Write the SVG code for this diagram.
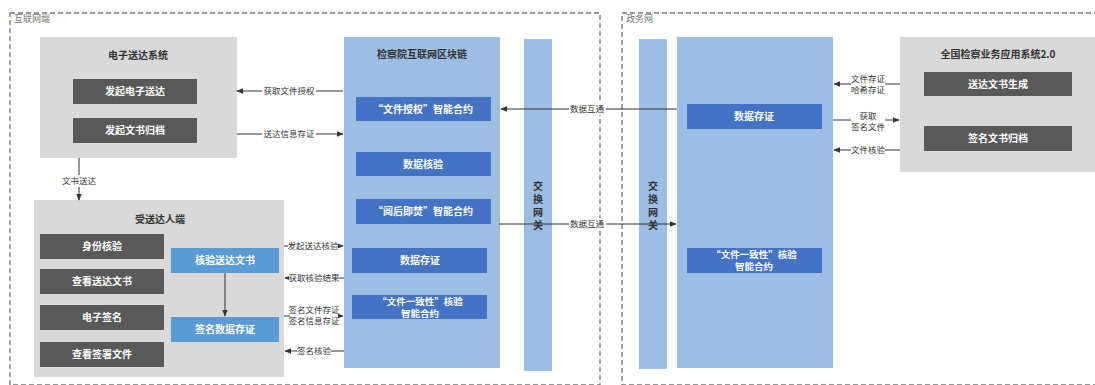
<svg xmlns="http://www.w3.org/2000/svg" width="1095" height="385" viewBox="0 0 1095 385">
<defs>
<marker id="ah" viewBox="0 0 10 10" refX="9" refY="5" markerWidth="7" markerHeight="7" markerUnits="userSpaceOnUse" orient="auto">
<path d="M0,1 L10,5 L0,9 z" fill="#333"/>
</marker>
<style>
text{font-family:"Noto Sans CJK SC","Noto Sans",sans-serif;}
.zone{fill:none;stroke:#777;stroke-width:1.3;stroke-dasharray:5,3;}
.zl{font-size:9px;fill:#777;}
.lg{fill:#d9d9d9;}
.dk{fill:#595959;}
.lb{fill:#9cbde4;}
.db{fill:#4472c4;}
.mb{fill:#5b9bd5;}
.t{font-size:10px;font-weight:bold;fill:#333;text-anchor:middle;}
.w{font-size:10px;font-weight:bold;fill:#fff;text-anchor:middle;}
.w2{font-size:9.5px;font-weight:bold;fill:#fff;text-anchor:middle;}
.c{fill:none;stroke:#333;stroke-width:1;}
.cl{font-size:8.5px;fill:#333;text-anchor:middle;}
.bg{fill:#fff;}
</style>
</defs>
<rect width="1095" height="385" fill="#fff"/>
<g id="zone-internet">
<rect class="zone" x="10" y="13" width="590" height="372"/>
<text class="zl" x="14" y="22">互联网端</text>
</g>
<g id="zone-gov">
<rect class="zone" x="622" y="13" width="480" height="372"/>
<text class="zl" x="626" y="22">政务网</text>
</g>
<g id="edelivery">
<rect class="lg" x="40" y="37" width="197" height="121"/>
<text class="t" x="138" y="59">电子送达系统</text>
<rect class="dk" x="73" y="79" width="124" height="25"/>
<text class="w" x="135" y="95">发起电子送达</text>
<rect class="dk" x="73" y="118" width="124" height="25"/>
<text class="w" x="135" y="134">发起文书归档</text>
</g>
<g id="receiver">
<rect class="lg" x="34" y="200" width="250" height="177"/>
<text class="t" x="160" y="223">受送达人端</text>
<rect class="dk" x="40" y="234" width="124" height="25"/>
<text class="w" x="102" y="250">身份核验</text>
<rect class="dk" x="40" y="269" width="124" height="25"/>
<text class="w" x="102" y="285">查看送达文书</text>
<rect class="dk" x="40" y="305" width="124" height="25"/>
<text class="w" x="102" y="321">电子签名</text>
<rect class="dk" x="40" y="342" width="124" height="25"/>
<text class="w" x="102" y="358">查看签署文件</text>
<rect class="mb" x="171" y="248" width="108" height="25"/>
<text class="w" x="225" y="264">核验送达文书</text>
<rect class="mb" x="171" y="317" width="108" height="25"/>
<text class="w" x="225" y="333">签名数据存证</text>
</g>
<g id="blockchain">
<rect class="lb" x="344" y="37" width="156" height="331"/>
<text class="t" x="422" y="58">检察院互联网区块链</text>
<rect class="db" x="356" y="97" width="135" height="24"/>
<text class="w" x="423" y="113">“文件授权”智能合约</text>
<rect class="db" x="356" y="152" width="135" height="24"/>
<text class="w" x="423" y="168">数据核验</text>
<rect class="db" x="356" y="199" width="135" height="25"/>
<text class="w" x="423" y="215">“阅后即焚”智能合约</text>
<rect class="db" x="352" y="248" width="135" height="25"/>
<text class="w" x="420" y="264">数据存证</text>
<rect class="db" x="352" y="295" width="135" height="24"/>
<text class="w2" x="420" y="305">“文件一致性”核验</text>
<text class="w2" x="420" y="317">智能合约</text>
</g>
<g id="gateway1">
<rect class="lb" x="524" y="39" width="28" height="332"/>
<text class="t" x="538" y="190">交</text>
<text class="t" x="538" y="203">换</text>
<text class="t" x="538" y="216">网</text>
<text class="t" x="538" y="229">关</text>
</g>
<g id="gateway2">
<rect class="lb" x="639" y="39" width="28" height="330"/>
<text class="t" x="653" y="190">交</text>
<text class="t" x="653" y="203">换</text>
<text class="t" x="653" y="216">网</text>
<text class="t" x="653" y="229">关</text>
</g>
<g id="gov-chain">
<rect class="lb" x="677" y="37" width="156" height="331"/>
<rect class="db" x="687" y="104" width="135" height="25"/>
<text class="w" x="754" y="120">数据存证</text>
<rect class="db" x="687" y="248" width="135" height="25"/>
<text class="w2" x="754" y="258">“文件一致性”核验</text>
<text class="w2" x="754" y="270">智能合约</text>
</g>
<g id="national-system">
<rect class="lg" x="900" y="37" width="195" height="135"/>
<text class="t" x="998" y="58">全国检察业务应用系统2.0</text>
<rect class="dk" x="924" y="72" width="148" height="24"/>
<text class="w" x="998" y="88">送达文书生成</text>
<rect class="dk" x="924" y="126" width="148" height="25"/>
<text class="w" x="998" y="142">签名文书归档</text>
</g>
<g id="connectors">
<line class="c" x1="343" y1="91" x2="237" y2="91" marker-end="url(#ah)"/>
<rect class="bg" x="262" y="85" width="54" height="12"/>
<text class="cl" x="289" y="94">获取文件授权</text>
<line class="c" x1="237" y1="134" x2="343" y2="134" marker-end="url(#ah)"/>
<rect class="bg" x="262" y="128" width="54" height="12"/>
<text class="cl" x="289" y="137">送达信息存证</text>
<line class="c" x1="79" y1="158" x2="79" y2="200" marker-end="url(#ah)"/>
<rect class="bg" x="60" y="175" width="38" height="12"/>
<text class="cl" x="79" y="184">文书送达</text>
<line class="c" x1="225" y1="273" x2="225" y2="316" marker-end="url(#ah)"/>
<line class="c" x1="284" y1="246" x2="343" y2="246" marker-end="url(#ah)"/>
<rect class="bg" x="288" y="240" width="50" height="12"/>
<text class="cl" x="313" y="249">发起送达核验</text>
<line class="c" x1="344" y1="278" x2="285" y2="278" marker-end="url(#ah)"/>
<rect class="bg" x="289" y="272" width="50" height="12"/>
<text class="cl" x="314" y="281">获取核验结果</text>
<line class="c" x1="284" y1="316" x2="343" y2="316" marker-end="url(#ah)"/>
<rect class="bg" x="290" y="303" width="48" height="24"/>
<text class="cl" x="314" y="313">签名文件存证</text>
<text class="cl" x="314" y="324">签名信息存证</text>
<line class="c" x1="344" y1="351" x2="285" y2="351" marker-end="url(#ah)"/>
<rect class="bg" x="297" y="345" width="34" height="12"/>
<text class="cl" x="314" y="354">签名核验</text>
<line class="c" x1="677" y1="109" x2="501" y2="109" marker-end="url(#ah)"/>
<rect class="bg" x="569" y="103" width="37" height="12"/>
<text class="cl" x="587" y="112">数据互通</text>
<line class="c" x1="499" y1="224" x2="676" y2="224" marker-end="url(#ah)"/>
<rect class="bg" x="569" y="218" width="37" height="12"/>
<text class="cl" x="587" y="227">数据互通</text>
<line class="c" x1="900" y1="84" x2="834" y2="84" marker-end="url(#ah)"/>
<rect class="bg" x="851" y="74" width="34" height="22"/>
<text class="cl" x="868" y="82">文件存证</text>
<text class="cl" x="868" y="93">哈希存证</text>
<line class="c" x1="833" y1="120" x2="899" y2="120" marker-end="url(#ah)"/>
<rect class="bg" x="851" y="111" width="34" height="22"/>
<text class="cl" x="868" y="119">获取</text>
<text class="cl" x="868" y="130">签名文件</text>
<line class="c" x1="900" y1="150" x2="834" y2="150" marker-end="url(#ah)"/>
<rect class="bg" x="851" y="144" width="34" height="12"/>
<text class="cl" x="868" y="153">文件核验</text>
</g>
</svg>
